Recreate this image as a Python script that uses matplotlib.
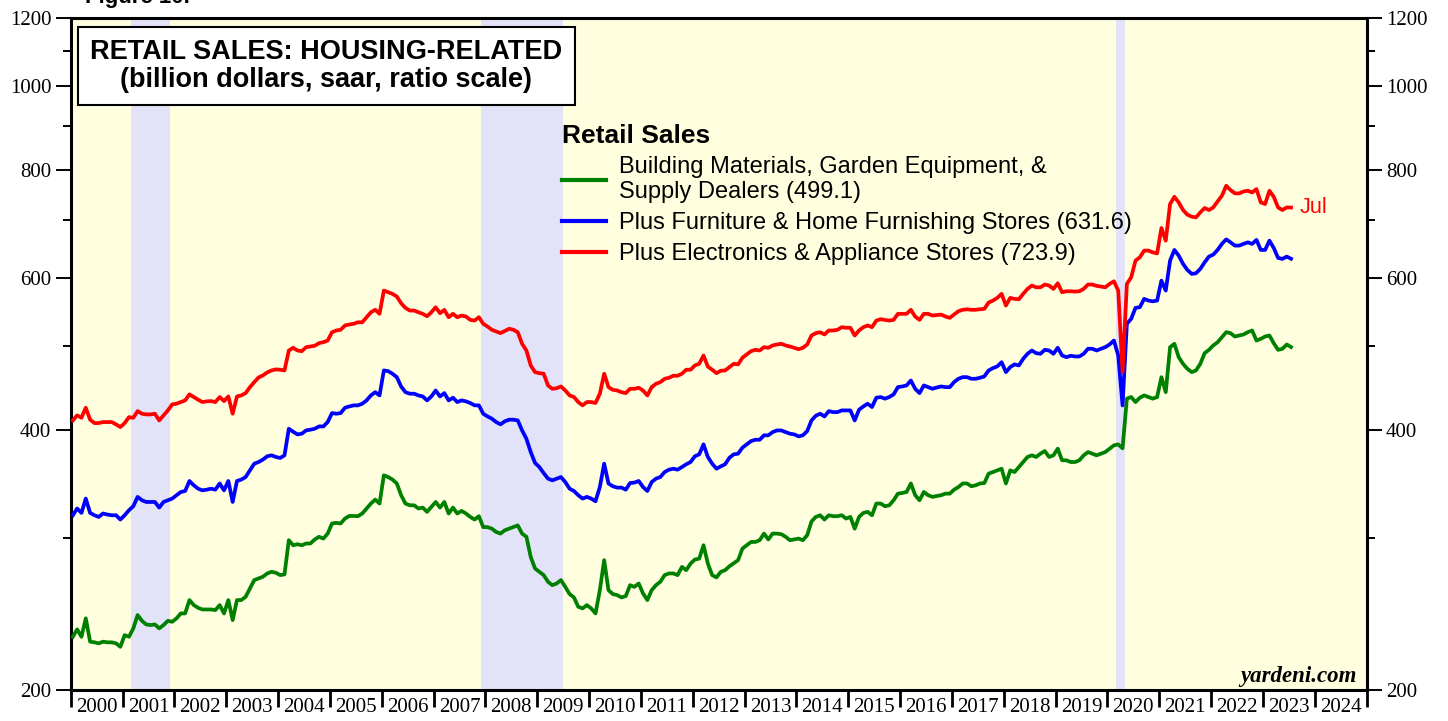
import numpy as np
import matplotlib.pyplot as plt
from matplotlib.patches import Rectangle
from matplotlib.ticker import FixedLocator, FixedFormatter, NullFormatter

plt.rcParams['font.family'] = ['Liberation Serif', 'DejaVu Serif']

# monthly, Jan 2000 .. Jul 2023, billion dollars saar
green = [
    230.5, 235.1, 230.5, 242.1, 227.5, 227.1, 226.5, 227.5, 227.1, 227.1, 226.5, 224.4,
    231.5, 230.5, 235.7, 244.2, 240.5, 238.2, 237.8, 238.2, 235.7, 237.8, 240.5, 239.9,
    242.1, 245.3, 245.3, 254.2, 250.8, 249.0, 247.9, 247.9, 247.9, 247.5, 250.8, 245.3,
    254.2, 241.0, 254.2, 254.2, 256.4, 262.2, 268.1, 269.3, 270.5, 272.9, 274.1, 273.4,
    271.7, 272.2, 298.2, 294.2, 295.0, 294.2, 295.6, 295.6, 298.8, 300.9, 299.5, 303.5,
    311.8, 312.3, 311.8, 315.9, 318.1, 318.1, 317.9, 320.2, 324.5, 328.8, 332.3, 328.8,
    354.5, 352.9, 350.5, 346.9, 336.2, 328.8, 327.3, 327.3, 324.5, 325.3, 321.6, 325.9,
    330.2, 325.3, 330.2, 320.2, 325.3, 320.2, 322.4, 320.2, 317.3, 315.1, 317.9, 308.8,
    308.8, 307.5, 304.8, 303.5, 306.2, 307.5, 308.8, 310.2, 303.5, 300.9, 285.2, 276.5,
    274.1, 271.7, 266.9, 264.5, 265.7, 268.1, 263.3, 258.3, 256.0, 249.7, 248.6, 250.8,
    248.6, 245.3, 261.0, 282.7, 261.0, 258.3, 257.6, 256.0, 256.9, 264.5, 263.3, 265.7,
    258.7, 254.2, 261.0, 264.5, 266.9, 271.7, 272.9, 272.9, 271.7, 277.7, 275.3, 280.2,
    283.2, 283.9, 294.2, 280.2, 271.7, 270.0, 274.1, 275.3, 278.2, 280.4, 282.7, 291.6,
    294.2, 296.8, 296.8, 298.2, 303.5, 298.8, 303.5, 303.5, 303.0, 300.9, 298.2, 298.8,
    299.5, 298.2, 302.2, 313.5, 317.3, 318.7, 315.1, 318.7, 317.9, 317.9, 318.7, 315.9,
    317.3, 307.5, 317.3, 320.7, 321.6, 318.7, 328.8, 328.8, 326.5, 327.3, 331.7, 337.6,
    338.2, 339.1, 346.9, 336.2, 331.7, 339.1, 336.2, 334.7, 335.5, 336.2, 337.6, 337.6,
    341.2, 343.6, 346.9, 346.9, 344.3, 345.2, 346.9, 347.3, 356.1, 357.6, 359.2, 360.8,
    346.9, 359.2, 357.6, 362.4, 367.3, 372.3, 373.9, 372.3, 375.6, 378.2, 372.3, 373.9,
    380.6, 369.0, 369.0, 367.3, 367.3, 369.0, 373.9, 377.2, 375.6, 373.9, 375.6, 377.2,
    380.6, 384.0, 385.0, 381.0, 434.9, 436.8, 431.0, 436.0, 438.7, 436.8, 434.9, 436.8,
    460.6, 442.5, 498.9, 503.4, 485.8, 477.3, 471.0, 466.8, 468.9, 477.3, 491.0, 495.4,
    501.2, 505.5, 512.3, 519.3, 517.9, 513.3, 514.7, 516.1, 519.3, 521.6, 507.8, 510.1,
    513.3, 514.7, 504.2, 495.4, 496.7, 502.5, 499.1,
]

blue = [
    318.7, 324.5, 320.7, 333.2, 320.7, 318.7, 317.3, 320.2, 319.3, 318.7, 318.7, 315.1,
    318.7, 323.0, 326.5, 334.7, 331.7, 330.2, 330.2, 330.2, 325.3, 330.2, 331.7, 333.2,
    336.2, 339.1, 340.0, 349.2, 345.2, 342.1, 340.6, 341.2, 342.1, 341.2, 346.9, 340.6,
    349.2, 330.2, 349.2, 350.5, 352.9, 359.2, 365.7, 367.3, 369.7, 373.0, 373.9, 372.3,
    371.3, 373.9, 401.4, 398.2, 395.4, 396.1, 399.6, 400.4, 401.4, 403.9, 403.9, 408.6,
    418.5, 417.8, 418.5, 424.5, 426.0, 427.2, 427.2, 429.1, 432.9, 438.7, 442.5, 438.7,
    468.9, 468.0, 464.8, 460.6, 449.2, 442.5, 440.7, 440.7, 438.7, 437.5, 432.9, 437.5,
    444.5, 437.5, 441.4, 432.9, 436.0, 431.0, 432.9, 431.8, 429.9, 427.2, 427.2, 417.8,
    414.8, 412.3, 408.6, 406.1, 409.4, 411.2, 411.2, 410.4, 399.6, 390.8, 377.2, 366.4,
    362.4, 356.6, 351.4, 349.8, 351.4, 352.9, 348.2, 342.1, 340.0, 336.2, 333.2, 334.7,
    333.2, 330.8, 343.6, 365.7, 346.9, 344.3, 343.1, 343.1, 341.2, 347.3, 347.7, 349.2,
    343.6, 340.0, 348.2, 351.4, 352.9, 357.6, 359.9, 360.8, 359.9, 362.4, 365.1, 367.3,
    373.0, 374.9, 385.0, 372.3, 365.7, 360.8, 363.1, 365.1, 371.6, 374.9, 375.6, 381.6,
    385.0, 388.4, 389.8, 389.8, 394.4, 394.4, 397.8, 399.6, 399.6, 397.8, 396.1, 395.4,
    393.3, 394.4, 398.9, 410.4, 415.6, 417.8, 414.8, 420.7, 419.6, 419.6, 421.5, 421.5,
    421.5, 410.4, 422.3, 426.0, 429.1, 425.3, 436.0, 436.8, 434.9, 436.8, 439.9, 448.5,
    449.3, 450.5, 456.5, 446.5, 441.4, 450.5, 448.5, 446.5, 448.1, 449.3, 448.5, 448.5,
    454.5, 458.6, 460.6, 460.6, 458.6, 458.6, 459.8, 461.5, 468.9, 471.8, 474.0, 479.3,
    466.8, 473.1, 476.5, 475.2, 483.7, 490.2, 494.5, 491.0, 490.2, 495.4, 494.5, 490.2,
    498.1, 488.0, 485.8, 487.6, 486.7, 486.7, 490.2, 496.8, 496.8, 494.5, 496.8, 498.9,
    502.5, 507.8, 488.0, 427.2, 531.0, 538.1, 554.1, 555.0, 567.5, 564.9, 563.8, 564.9,
    595.8, 580.2, 628.4, 646.6, 636.9, 623.0, 613.1, 606.6, 607.6, 614.7, 625.6, 635.2,
    638.6, 646.6, 657.1, 665.1, 659.8, 654.1, 654.1, 657.1, 659.8, 657.1, 664.1, 646.6,
    646.6, 662.8, 650.1, 633.0, 631.3, 635.2, 631.6,
]

red = [
    410.4, 416.0, 413.3, 424.5, 411.2, 407.5, 407.5, 408.6, 408.6, 408.6, 406.1, 403.2,
    407.5, 414.0, 413.3, 420.7, 417.8, 417.0, 417.0, 417.8, 410.4, 416.0, 421.5, 428.3,
    429.1, 431.0, 432.9, 439.9, 436.8, 433.7, 431.0, 431.8, 432.1, 431.0, 436.8, 432.1,
    437.5, 417.8, 437.5, 438.7, 441.4, 448.5, 454.5, 460.2, 462.7, 466.4, 468.9, 470.2,
    469.8, 468.9, 494.5, 498.1, 494.5, 493.6, 498.9, 499.8, 500.8, 504.3, 505.6, 507.8,
    519.2, 521.6, 522.6, 528.6, 530.0, 531.0, 533.2, 533.2, 540.4, 547.6, 551.2, 545.3,
    580.2, 577.6, 575.1, 571.0, 560.9, 554.0, 550.1, 550.1, 547.6, 545.3, 541.8, 547.6,
    555.0, 546.2, 551.1, 540.4, 545.3, 540.4, 542.8, 541.4, 536.6, 535.6, 540.4, 531.0,
    527.2, 522.6, 520.2, 518.0, 520.9, 524.0, 522.6, 519.2, 503.5, 494.5, 475.2, 466.8,
    465.5, 464.8, 450.5, 446.5, 447.2, 449.3, 444.5, 438.7, 436.8, 431.0, 427.2, 431.0,
    431.0, 429.9, 440.7, 464.8, 448.5, 445.3, 444.5, 442.5, 441.4, 446.5, 446.5, 447.7,
    444.5, 438.7, 448.5, 452.5, 454.5, 458.6, 459.8, 462.3, 462.3, 464.8, 469.8, 469.8,
    475.2, 477.3, 488.0, 473.7, 469.8, 465.5, 468.5, 468.9, 473.1, 477.3, 476.5, 485.0,
    489.3, 493.6, 495.4, 494.5, 498.9, 498.1, 501.2, 502.5, 503.5, 501.2, 499.8, 498.1,
    496.2, 498.1, 502.5, 514.7, 517.9, 519.2, 516.1, 521.6, 521.6, 522.6, 526.2, 525.4,
    525.4, 514.7, 521.6, 526.2, 528.6, 526.2, 535.6, 537.5, 536.6, 535.6, 536.6, 545.3,
    545.3, 545.3, 551.2, 541.4, 536.6, 545.3, 545.3, 542.8, 543.5, 544.2, 541.4, 539.5,
    544.2, 549.1, 551.2, 552.0, 551.2, 551.2, 552.0, 552.6, 562.0, 564.9, 569.0, 575.1,
    557.5, 569.0, 567.5, 566.9, 575.1, 582.8, 588.0, 585.3, 585.3, 589.6, 588.0, 582.8,
    591.6, 577.6, 579.1, 579.1, 578.7, 579.1, 582.8, 589.6, 589.6, 587.5, 586.4, 585.3,
    590.6, 594.7, 580.2, 466.8, 590.6, 601.1, 628.4, 634.0, 645.4, 645.4, 642.4, 640.7,
    685.6, 662.8, 730.8, 745.0, 734.0, 719.2, 710.3, 706.6, 705.2, 714.7, 723.1, 719.2,
    724.2, 735.8, 747.1, 767.3, 758.5, 751.8, 751.8, 755.7, 757.1, 753.7, 760.5, 734.0,
    730.8, 757.1, 745.0, 724.2, 719.2, 724.2, 723.9,
]

labels = [
    'Building Materials, Garden Equipment, &\nSupply Dealers (499.1)',
    'Plus Furniture & Home Furnishing Stores (631.6)',
    'Plus Electronics & Appliance Stores (723.9)',
]

rec_start = [2001.17, 2007.92, 2020.17]
rec_end = [2001.92, 2009.50, 2020.33]

y_major = [200, 400, 600, 800, 1000, 1200]
y_minor = [300, 500, 700, 900, 1100]
years = list(range(2000, 2025))

dates = 2000 + (np.arange(len(green)) + 0.5) / 12

fig = plt.figure(figsize=(14.48, 7.21), dpi=100)
ax = fig.add_axes([0.0488, 0.043, 0.895, 0.932])
ax.set_facecolor('#FFFFE0')

for s, e in zip(rec_start, rec_end):
    ax.axvspan(s, e, color='#E2E2F8', lw=0, zorder=0)

ax.plot(dates, green, color='#008000', lw=2.7, label=labels[0], zorder=3)
ax.plot(dates, blue, color='#0000FF', lw=2.7, label=labels[1], zorder=3)
ax.plot(dates, red, color='#FF0000', lw=2.7, label=labels[2], zorder=3)

ax.set_yscale('log')
ax.set_ylim(200, 1200)
ax.set_xlim(2000, 2025)

ax.yaxis.set_major_locator(FixedLocator(y_major))
ax.yaxis.set_major_formatter(FixedFormatter([str(v) for v in y_major]))
ax.yaxis.set_minor_locator(FixedLocator(y_minor))
ax.yaxis.set_minor_formatter(NullFormatter())
ax.tick_params(axis='y', which='both', left=True, right=True,
               labelleft=True, labelright=True, direction='out')
ax.tick_params(axis='y', which='major', length=11, width=1.4, labelsize=15, pad=3)
ax.tick_params(axis='y', which='minor', length=6, width=1.4)

ax.set_xticks(range(2000, 2026))
ax.set_xticklabels([])
ax.set_xticks([y + 0.5 for y in years], minor=True)
ax.set_xticklabels([str(y) for y in years], minor=True)
ax.tick_params(axis='x', which='major', length=12, width=2, direction='out')
ax.tick_params(axis='x', which='minor', length=0, labelsize=15, pad=6)

for sp in ax.spines.values():
    sp.set_linewidth(2.2)

# title box
ax.add_patch(Rectangle((0.0056, 0.8705), 0.3835, 0.1161, transform=ax.transAxes,
                       facecolor='white', edgecolor='black', lw=1.5, zorder=5))
ax.text(0.1974, 0.9494, 'RETAIL SALES: HOUSING-RELATED', transform=ax.transAxes,
        ha='center', va='center', fontsize=19.5, fontweight='bold',
        family='Liberation Sans', zorder=6)
ax.text(0.1974, 0.9077, '(billion dollars, saar, ratio scale)', transform=ax.transAxes,
        ha='center', va='center', fontsize=19.5, fontweight='bold',
        family='Liberation Sans', zorder=6)

leg = ax.legend(loc='upper left', bbox_to_anchor=(0.3793, 0.843), frameon=False,
                title='Retail Sales', alignment='left',
                prop={'family': 'Liberation Sans', 'size': 17},
                title_fontproperties={'family': 'Liberation Sans', 'size': 19,
                                      'weight': 'bold'},
                handlelength=1.87, handletextpad=0.55, labelspacing=0.38,
                borderpad=0, borderaxespad=0)
for t in leg.get_texts():
    t.set_linespacing(1.15)
for h in leg.get_lines():
    h.set_linewidth(3)

ax.annotate('Jul', xy=(dates[-1], red[-1]), xytext=(6, 0), textcoords='offset points',
            color='#FF0000', fontsize=15.5, family='Liberation Sans', va='center')

ax.text(0.9924, 0.0208, 'yardeni.com', transform=ax.transAxes, ha='right',
        va='center', fontsize=16.5, fontweight='bold', fontstyle='italic')

fig.text(0.059, 1.003, 'Figure 10.', fontsize=16, fontweight='bold',
         family='Liberation Sans', va='center')

fig.savefig('out.png', dpi=100)
